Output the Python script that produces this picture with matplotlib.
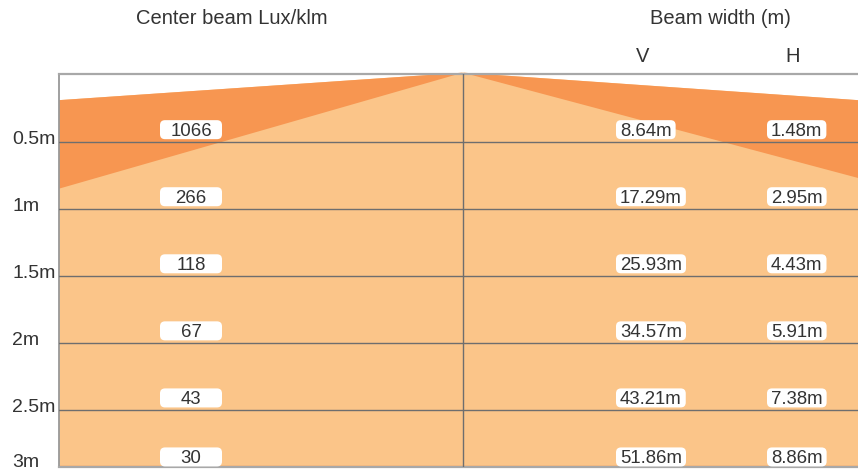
import matplotlib
matplotlib.use('Agg')
import matplotlib.pyplot as plt
from matplotlib.patches import FancyBboxPatch, Polygon

plt.rcParams['font.family'] = ['Liberation Sans', 'DejaVu Sans']

# ── data ────────────────────────────────────────────────────────────────
distances = [0.5, 1.0, 1.5, 2.0, 2.5, 3.0]
dist_labels = ['0.5m', '1m', '1.5m', '2m', '2.5m', '3m']
lux = [1066, 266, 118, 67, 43, 30]
v_width = [8.64, 17.29, 25.93, 34.57, 43.21, 51.86]
h_width = [1.48, 2.95, 4.43, 5.91, 7.38, 8.86]

# ── style ───────────────────────────────────────────────────────────────
LIGHT = '#fbc589'
DARK = '#f79651'
GRID = '#6e6e6e'
FRAME = '#a8a8a8'
TXT = '#333333'
FS = 13.4       # box labels
FS_TICK = 14
FS_HEAD = 14.5

W, H = 858, 470
fig = plt.figure(figsize=(W / 100, H / 100), dpi=100)
fig.patch.set_facecolor('white')

# axes: left edge x=59px, top y=74px, bottom y=467px, right = figure edge
ax = fig.add_axes([59 / W, 1 - 467 / H, 1 - 59 / W, (467 - 74) / H])
XL, XR = -1.0, (W - 463) / 404
YTOP, YBOT = -0.005, 2.925
ax.set_facecolor('white')

# grid (set ticks before limits so the view is not expanded)
ax.set_yticks(distances)
ax.set_xticks([0])
ax.set_xlim(XL, XR)
ax.set_ylim(YBOT, YTOP)
ax.tick_params(length=0, labelleft=False, labelbottom=False)
ax.grid(True, color=GRID, lw=1.0, zorder=2)
ax.set_axisbelow(False)
for s in ['top', 'bottom']:
    ax.spines[s].set_color(FRAME)
    ax.spines[s].set_linewidth(1.6)
ax.spines['left'].set_color('#999999')
ax.spines['left'].set_linewidth(1.3)
ax.spines['right'].set_visible(False)

# beam shapes (decorative)
up_l, lo_l = 0.19, 0.85
up_r, lo_r = 0.19, 0.77
apex = (0, YTOP - 0.01)
ax.add_patch(Polygon([apex, (XR, up_r), (XR, YBOT), (XL, YBOT), (XL, up_l)],
                     closed=True, fc=LIGHT, ec='none', zorder=1, clip_on=False))
ax.add_patch(Polygon([apex, (XL, up_l), (XL, lo_l)],
                     closed=True, fc=DARK, ec='none', zorder=1.5, clip_on=False))
ax.add_patch(Polygon([apex, (XR, up_r), (XR, lo_r)],
                     closed=True, fc=DARK, ec='none', zorder=1.5, clip_on=False))
ax.axhline(YBOT - 0.008, color=DARK, lw=1.0, zorder=1.6)

# distance labels
ytr = ax.get_yaxis_transform()
for d, lab in zip(distances, dist_labels):
    ax.text((12 - 59) / 799, min(d + 0.016, YBOT), lab, transform=ytr,
            ha='left', va='baseline', fontsize=FS_TICK, color=TXT, clip_on=False)

# headers
fig.text(232 / W, 1 - 18 / H, 'Center beam Lux/klm', ha='center', va='center',
         fontsize=FS_HEAD, color=TXT)
fig.text(720 / W, 1 - 18 / H, 'Beam width (m)', ha='center', va='center',
         fontsize=FS_HEAD, color=TXT)
fig.text(643 / W, 1 - 57 / H, 'V', ha='center', va='center', fontsize=FS_HEAD, color=TXT)
fig.text(793 / W, 1 - 57 / H, 'H', ha='center', va='center', fontsize=FS_HEAD, color=TXT)

# label boxes
PX = 1 / 404          # x data units per pixel
PY = 1 / 134          # y data units per pixel
BOX_H = 19 * PY
ASPECT = PY / PX


def label_box(x0, x1, yc):
    ax.add_patch(FancyBboxPatch((x0, yc - BOX_H / 2), x1 - x0, BOX_H,
                                boxstyle=f'round,pad=0,rounding_size={5 * PX}',
                                mutation_aspect=ASPECT, fc='white', ec='none',
                                zorder=3))


row_y = [min(d - 0.09, YBOT - 0.075) for d in distances]
base_off = 6.4 * PY

LUX_X = (191 - 463) / 404
V_X = (620 - 463) / 404
H_X = (771 - 463) / 404

fig.canvas.draw()
rend = fig.canvas.get_renderer()
inv = ax.transData.inverted()

for y, lx, vw, hw in zip(row_y, lux, v_width, h_width):
    label_box(LUX_X - 31 * PX, LUX_X + 31 * PX, y)
    ax.text(LUX_X, y + base_off, f'{lx}', ha='center', va='baseline',
            fontsize=FS, color=TXT, zorder=4)
    for xs, val in [(V_X, vw), (H_X, hw)]:
        t = ax.text(xs, y + base_off, f'{val:.2f}m', ha='left', va='baseline',
                    fontsize=FS, color=TXT, zorder=4, clip_on=False)
        bb = t.get_window_extent(rend)
        x1 = inv.transform((bb.x1, 0))[0]
        label_box(xs - 4 * PX, min(x1 + 4 * PX, XR - 2 * PX), y)

fig.savefig('out.png', dpi=100, facecolor='white')
